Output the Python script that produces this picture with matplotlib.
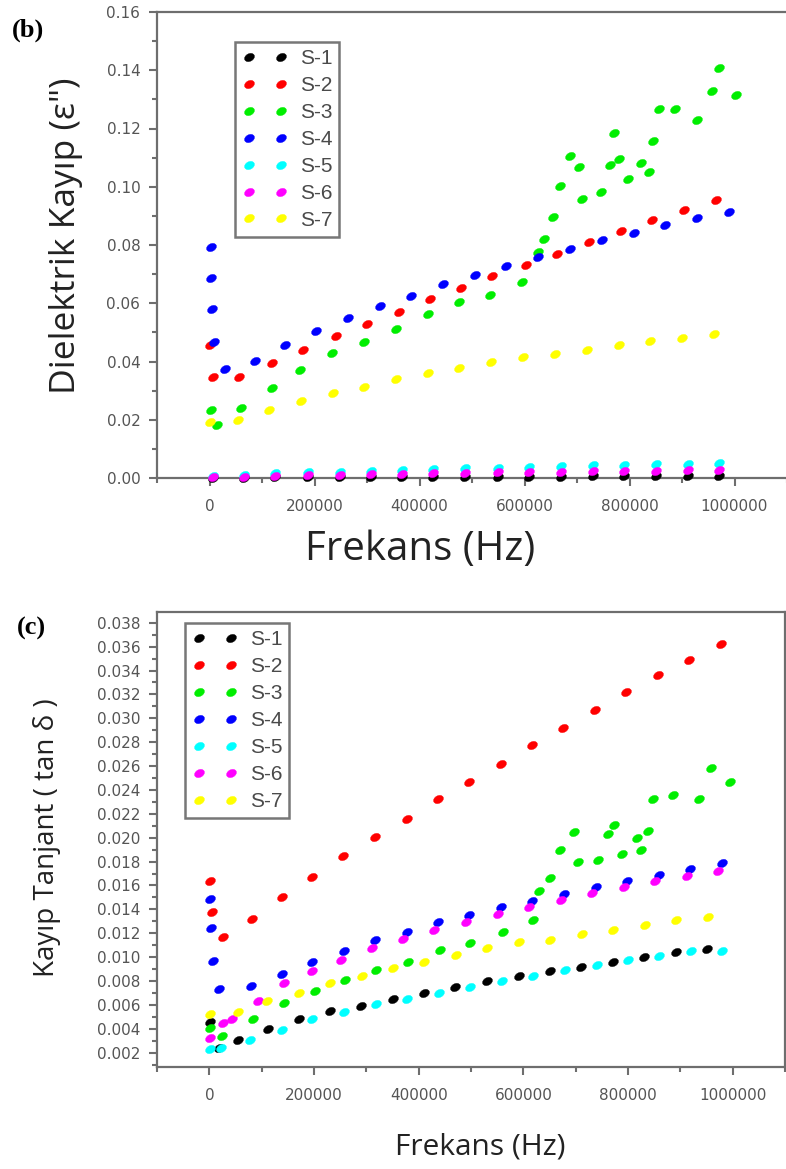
import matplotlib
matplotlib.use("Agg")
import matplotlib.pyplot as plt
from matplotlib.markers import MarkerStyle
from matplotlib.transforms import Affine2D
from matplotlib.ticker import MultipleLocator, FormatStrFormatter

# ---------------- data: dielectric loss (panel b) ----------------
series_names = ["S-1", "S-2", "S-3", "S-4", "S-5", "S-6", "S-7"]
series_colors = ["#000000", "#ff0000", "#00ee00", "#0000ff", "#00ffff", "#ff00ff", "#ffff00"]

b_low_f = [6000, 65000, 125000, 187000, 248000, 307000, 367000, 426000, 487000,
           549000, 609000, 669000, 730000, 790000, 851000, 911000, 971000]
b_s1 = [0.0001, 0.0001, 0.0002, 0.0002, 0.0003, 0.0003, 0.0003, 0.0004, 0.0004,
        0.0005, 0.0005, 0.0005, 0.0006, 0.0006, 0.0006, 0.0007, 0.0007]
b_s5 = [0.0008, 0.0012, 0.0016, 0.0019, 0.0022, 0.0025, 0.0028, 0.0031, 0.0033,
        0.0036, 0.0038, 0.0041, 0.0043, 0.0045, 0.0047, 0.0049, 0.0051]
b_s6 = [0.0003, 0.0005, 0.0007, 0.0009, 0.0011, 0.0013, 0.0014, 0.0016, 0.0017,
        0.0019, 0.0020, 0.0021, 0.0023, 0.0024, 0.0025, 0.0026, 0.0027]

b_s2_f = [1000, 6000, 57000, 119000, 179000, 240000, 300000, 360000, 420000, 479000,
          538000, 602000, 662000, 722000, 784000, 843000, 904000, 965000]
b_s2 = [0.0457, 0.0348, 0.0346, 0.0394, 0.0440, 0.0488, 0.0529, 0.0571, 0.0614, 0.0653,
        0.0694, 0.0732, 0.0769, 0.0811, 0.0849, 0.0885, 0.0921, 0.0955]

b_s3_f = [2000, 14600, 60000, 119000, 173000, 234000, 295000, 356000, 416000, 476000,
          535000, 595000, 625000, 637000, 654000, 668000, 686000, 703000, 710000, 745000,
          762000, 771000, 780000, 797000, 822000, 837000, 845000, 856000, 887000, 928000,
          957000, 971000, 1003000]
b_s3 = [0.0233, 0.0182, 0.0239, 0.0310, 0.0371, 0.0428, 0.0468, 0.0510, 0.0563, 0.0603,
        0.0630, 0.0674, 0.0775, 0.0821, 0.0897, 0.1003, 0.1106, 0.1069, 0.0958, 0.0983,
        0.1073, 0.1183, 0.1094, 0.1026, 0.1080, 0.1052, 0.1158, 0.1266, 0.1266, 0.1229,
        0.1330, 0.1407, 0.1315]

b_s4_f = [2000, 3000, 5000, 8000, 28600, 87000, 144000, 203000, 263000, 324000, 384000,
          444000, 506000, 565000, 625000, 686000, 748000, 808000, 867000, 928000, 989000]
b_s4 = [0.0794, 0.0686, 0.0579, 0.0468, 0.0373, 0.0403, 0.0457, 0.0505, 0.0550, 0.0591,
        0.0626, 0.0665, 0.0698, 0.0729, 0.0760, 0.0786, 0.0817, 0.0842, 0.0868, 0.0893,
        0.0914]

b_s7_f = [1000, 54000, 114000, 175000, 235000, 295000, 356000, 416000, 476000, 537000,
          597000, 659000, 719000, 780000, 839000, 900000, 961000]
b_s7 = [0.0193, 0.0199, 0.0233, 0.0266, 0.0293, 0.0314, 0.0339, 0.0362, 0.0379, 0.0398,
        0.0417, 0.0425, 0.0440, 0.0457, 0.0470, 0.0482, 0.0494]

# ---------------- data: loss tangent (panel c) ----------------
c_s1_f = [1000, 18000, 55000, 112000, 171000, 230000, 290000, 350000, 410000, 470000,
          531000, 591000, 651000, 711000, 771000, 830000, 891000, 951000]
c_s1 = [0.0046, 0.0024, 0.0031, 0.0040, 0.0048, 0.0055, 0.0059, 0.0065, 0.0070, 0.0075,
        0.0080, 0.0084, 0.0088, 0.0092, 0.0096, 0.0100, 0.0104, 0.0107]

c_s2_f = [1000, 5000, 26000, 81000, 138000, 196000, 256000, 316000, 377000, 436000,
          497000, 557000, 616000, 676000, 736000, 797000, 858000, 917000, 978000]
c_s2 = [0.0164, 0.0138, 0.0117, 0.0132, 0.0150, 0.0167, 0.0185, 0.0201, 0.0216, 0.0232,
        0.0247, 0.0262, 0.0278, 0.0292, 0.0307, 0.0322, 0.0336, 0.0349, 0.0362]

c_s3_f = [1000, 25000, 83000, 142000, 202000, 260000, 319000, 380000, 440000, 499000,
          561000, 618000, 629000, 651000, 670000, 696000, 705000, 743000, 761000, 773000,
          789000, 817000, 825000, 839000, 848000, 886000, 936000, 959000, 994000]
c_s3 = [0.0041, 0.0034, 0.0048, 0.0062, 0.0072, 0.0081, 0.0089, 0.0096, 0.0106, 0.0112,
        0.0121, 0.0131, 0.0155, 0.0166, 0.0190, 0.0205, 0.0180, 0.0181, 0.0203, 0.0211,
        0.0186, 0.0200, 0.0190, 0.0206, 0.0232, 0.0236, 0.0232, 0.0258, 0.0247]

c_s4_f = [1000, 3000, 7000, 19000, 80000, 138000, 197000, 258000, 316000, 377000,
          437000, 497000, 557000, 617000, 678000, 738000, 799000, 859000, 919000, 980000]
c_s4 = [0.0149, 0.0124, 0.0097, 0.0073, 0.0076, 0.0086, 0.0096, 0.0105, 0.0114, 0.0121,
        0.0129, 0.0135, 0.0142, 0.0147, 0.0153, 0.0159, 0.0164, 0.0169, 0.0174, 0.0179]

c_s5_f = [1000, 23000, 78000, 138000, 197000, 258000, 318000, 378000, 439000, 499000,
          559000, 619000, 680000, 740000, 800000, 860000, 920000, 980000]
c_s5 = [0.0023, 0.0024, 0.0031, 0.0039, 0.0048, 0.0054, 0.0061, 0.0065, 0.0070, 0.0075,
        0.0080, 0.0084, 0.0089, 0.0093, 0.0098, 0.0101, 0.0105, 0.0105]

c_s6_f = [1000, 27000, 43000, 93000, 143000, 197000, 251000, 310000, 370000, 430000,
          491000, 551000, 611000, 672000, 732000, 792000, 851000, 912000, 972000]
c_s6 = [0.0032, 0.0045, 0.0048, 0.0063, 0.0078, 0.0088, 0.0098, 0.0108, 0.0115, 0.0123,
        0.0129, 0.0136, 0.0142, 0.0148, 0.0154, 0.0159, 0.0164, 0.0168, 0.0172]

c_s7_f = [1000, 55000, 110000, 171000, 230000, 291000, 350000, 410000, 472000, 531000,
          591000, 651000, 712000, 771000, 832000, 892000, 952000]
c_s7 = [0.0052, 0.0054, 0.0063, 0.0070, 0.0078, 0.0084, 0.0091, 0.0096, 0.0102, 0.0108,
        0.0113, 0.0114, 0.0119, 0.0123, 0.0127, 0.0131, 0.0134]

panel_b = [(b_low_f, b_s1), (b_s2_f, b_s2), (b_s3_f, b_s3), (b_s4_f, b_s4),
           (b_low_f, b_s5), (b_low_f, b_s6), (b_s7_f, b_s7)]
panel_c = [(c_s1_f, c_s1), (c_s2_f, c_s2), (c_s3_f, c_s3), (c_s4_f, c_s4),
           (c_s5_f, c_s5), (c_s6_f, c_s6), (c_s7_f, c_s7)]

# ---------------- styling ----------------
AX_GREY = "#6e6e6e"
TICK_GREY = "#555555"
LABEL_COLOR = "#222222"
dot = MarkerStyle("o", transform=Affine2D().scale(1.0, 0.72).rotate_deg(28))

W, H = 786, 1169
fig = plt.figure(figsize=(W / 100, H / 100), dpi=100)


def px_axes(left, top, right, bottom):
    return fig.add_axes([left / W, 1 - bottom / H, (right - left) / W, (bottom - top) / H])


def px_text(x, y, s, **kw):
    return fig.text(x / W, 1 - y / H, s, **kw)


def style_axes(ax, ymajor, yminor, yfmt):
    for s in ax.spines.values():
        s.set_color(AX_GREY)
        s.set_linewidth(1.6)
    ax.xaxis.set_major_locator(MultipleLocator(200000))
    ax.xaxis.set_minor_locator(MultipleLocator(100000))
    ax.yaxis.set_major_locator(MultipleLocator(ymajor))
    ax.yaxis.set_minor_locator(MultipleLocator(yminor))
    ax.xaxis.set_major_formatter(FormatStrFormatter("%d"))
    ax.yaxis.set_major_formatter(FormatStrFormatter(yfmt))
    ax.tick_params(which="both", direction="out", color=AX_GREY, width=1.5,
                   top=False, right=False, labelcolor=TICK_GREY,
                   labelsize=11)
    ax.tick_params(which="major", length=6)
    ax.tick_params(which="minor", length=3.5)
    ax.tick_params(axis="x", which="major", pad=9)
    ax.tick_params(axis="y", which="major", pad=6)
    ax.set_xlim(-100000, 1100000)


def draw_series(ax, data):
    for (f, v), name, col in zip(data, series_names, series_colors):
        ax.plot(f, v, linestyle="none", marker=dot, markersize=7.5,
                markerfacecolor=col, markeredgecolor=col, markeredgewidth=0.3,
                label=name, clip_on=False, zorder=3)


def add_legend(ax, left, top):
    leg = ax.legend(loc="upper left", bbox_to_anchor=(left / W, 1 - top / H),
                    bbox_transform=fig.transFigure, numpoints=2, handlelength=2.15,
                    handletextpad=0.6, labelspacing=0.38, borderpad=0.35,
                    borderaxespad=0, fancybox=False, framealpha=1,
                    edgecolor="#777777",
                    prop={"family": "Liberation Sans", "size": 15})
    leg.get_frame().set_linewidth(1.8)
    for t in leg.get_texts():
        t.set_color("#4a4a4a")
    return leg


# ---------------- panel (b) ----------------
ax_b = px_axes(157, 12, 787, 478)
draw_series(ax_b, panel_b)
style_axes(ax_b, 0.02, 0.01, "%.2f")
ax_b.set_ylim(0, 0.16)
ax_b.spines["right"].set_visible(False)
add_legend(ax_b, 235, 42)
px_text(66, 236, 'Dielektrik Kayıp (ε")', family="Open Sans", fontsize=25.5,
        color=LABEL_COLOR, rotation=90, ha="center", va="center")
px_text(420, 550, "Frekans (Hz)", family="Open Sans", fontsize=29,
        color=LABEL_COLOR, ha="center", va="center")
px_text(12, 30, "(b)", family="Liberation Serif", fontweight="bold",
        fontsize=19, va="center", ha="left")

# ---------------- panel (c) ----------------
ax_c = px_axes(157, 612, 785, 1067)
draw_series(ax_c, panel_c)
style_axes(ax_c, 0.002, 0.001, "%.3f")
ax_c.set_ylim(0.0008, 0.0389)
add_legend(ax_c, 185, 623)
px_text(47, 838, "Kayıp Tanjant ( tan δ )", family="Open Sans", fontsize=20,
        color=LABEL_COLOR, rotation=90, ha="center", va="center")
px_text(480, 1147, "Frekans (Hz)", family="Open Sans", fontsize=21.5,
        color=LABEL_COLOR, ha="center", va="center")
px_text(17, 628, "(c)", family="Liberation Serif", fontweight="bold",
        fontsize=19, va="center", ha="left")

fig.savefig("out.png", dpi=100, facecolor="white")
